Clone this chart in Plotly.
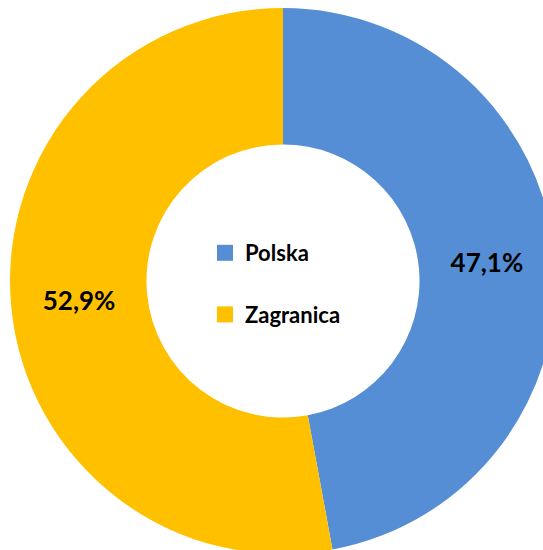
import plotly.graph_objects as go

categories = ["Polska", "Zagranica"]
values = [47.1, 52.9]
colors = ["#558ED5", "#FFC000"]

W, H = 566, 562
cx, cy, R = 283, 281, 273

fig = go.Figure()
fig.add_trace(go.Pie(
    labels=categories,
    values=values,
    sort=False,
    direction="clockwise",
    rotation=0,
    hole=0.5,
    marker=dict(colors=colors, line=dict(width=0)),
    texttemplate="%{percent:.1%}",
    textposition="inside",
    insidetextorientation="horizontal",
    textfont=dict(family="Lato", size=26, color="black", weight="bold"),
    showlegend=False,
    domain=dict(x=[(cx - R) / W, (cx + R) / W], y=[(H - cy - R) / H, (H - cy + R) / H]),
    hoverinfo="label+percent",
))

for name, col in zip(categories, colors):
    fig.add_trace(go.Scatter(
        x=[None], y=[None], mode="markers", name=name,
        marker=dict(symbol="square", size=16, color=col),
        legendgroup=name, showlegend=True,
    ))

fig.update_layout(
    width=W, height=H,
    margin=dict(l=0, r=0, t=0, b=0),
    paper_bgcolor="white", plot_bgcolor="white",
    separators=",.",
    xaxis=dict(visible=False), yaxis=dict(visible=False),
    legend=dict(
        x=(209 - 4) / W, y=1 - (232) / H, xanchor="left", yanchor="top",
        font=dict(family="Lato", size=22, color="black", weight="bold"),
        tracegroupgap=30, bgcolor="rgba(0,0,0,0)",
        itemwidth=30,
    ),
)

fig.write_html(
    "out.html",
    config={"displayModeBar": False},
    post_script="document.documentElement.style.overflow='hidden';"
                "document.body.style.margin='0';document.body.style.overflow='hidden';",
)
